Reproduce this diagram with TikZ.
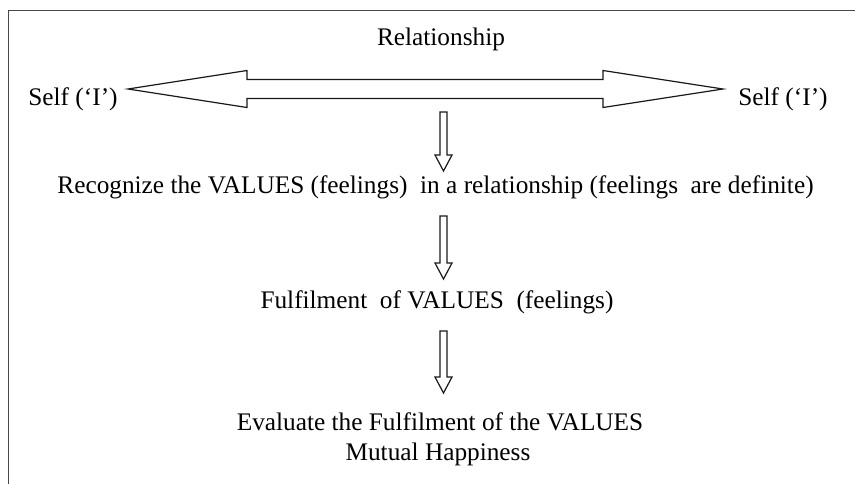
\documentclass[tikz,border=0pt]{standalone}
\usepackage{fontspec}
\setmainfont{Liberation Serif}
\usetikzlibrary{calc}
\tikzset{
  lbl/.style={anchor=base, inner sep=0pt, font=\fontsize{25.3}{30}\selectfont, text=black},
  hollow/.style={draw=black!90, line width=1.2pt, fill=white, line join=miter},
  frame/.style={draw=black!72, line width=1.9pt}
}
\newcommand\hollowdown[2]{%
  \draw[hollow] ($(#1)+(-3.5,0)$) -- ($(#2)+(-3.5,-16)$) -- ($(#2)+(-8.5,-16)$) -- (#2)
    -- ($(#2)+(8.5,-16)$) -- ($(#2)+(3.5,-16)$) -- ($(#1)+(3.5,0)$) -- cycle;}
\begin{document}
\begin{tikzpicture}[x=1pt,y=-1pt]
\useasboundingbox (0,0) rectangle (855,483);
\fill[white] (0,0) rectangle (855,483);
\draw[frame] (8.5,484) -- (8.5,10.5) -- (856,10.5);

\node[lbl] (rel) at (441,45) {Relationship};
\node[lbl] (selfL) at (73,105) {Self (‘I’)};
\node[lbl] (selfR) at (783,105) {Self (‘I’)};
\node[lbl] (rec) at (435.5,193) {Recognize the VALUES (feelings)\ \ in a relationship (feelings\ \ are definite)};
\node[lbl] (ful) at (437,308) {Fulfilment\ \ of VALUES\ \ (feelings)};
\node[lbl] (eva) at (440,430) {Evaluate the Fulfilment of the VALUES};
\node[lbl] (mut) at (438,460) {Mutual Happiness};

\coordinate (tipL) at (128,89);
\coordinate (tipR) at (723,89);
\draw[hollow] (tipL) -- ($(tipL)+(119,-18.5)$) -- ($(tipL)+(119,-9.5)$)
  -- ($(tipR)+(-120,-9.5)$) -- ($(tipR)+(-120,-18.5)$) -- (tipR)
  -- ($(tipR)+(-120,18.5)$) -- ($(tipR)+(-120,9.5)$)
  -- ($(tipL)+(119,9.5)$) -- ($(tipL)+(119,18.5)$) -- cycle;

\coordinate (a1t) at (443.5,112);
\coordinate (a1b) at (443.5,171);
\coordinate (a2t) at (443.5,216);
\coordinate (a2b) at (443.5,279);
\coordinate (a3t) at (443.5,331);
\coordinate (a3b) at (443.5,393);
\hollowdown{a1t}{a1b}
\hollowdown{a2t}{a2b}
\hollowdown{a3t}{a3b}
\end{tikzpicture}
\end{document}
